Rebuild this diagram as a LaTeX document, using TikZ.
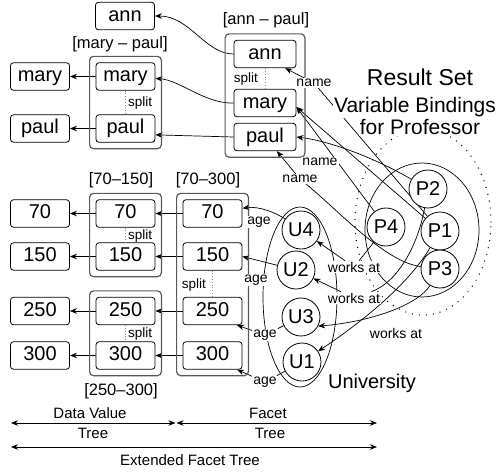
\documentclass[tikz,border=0pt]{standalone}
\usepackage{fontspec}
\setmainfont{Liberation Sans}
\usetikzlibrary{arrows.meta,fit,backgrounds}

\tikzset{
  fs/.style={font=\fontsize{#1}{#1}\selectfont},
  vbox/.style={draw, rounded corners=3pt, line width=0.8pt, fill=white,
    minimum width=59pt, minimum height=27.5pt, inner sep=0pt,
    text height=14.5pt, text depth=4pt, fs=20},
  grp/.style={draw=black!65, line width=1.2pt, rounded corners=4pt, inner sep=6pt},
  ttl/.style={fs=16.5, inner sep=0pt},
  circ/.style={circle, draw, line width=0.8pt, fill=white, minimum size=38pt,
    inner sep=0pt, fs=20},
  lbl/.style={fs=14, fill=white, inner sep=1pt},
  splitlbl/.style={fs=13.5, inner sep=1pt},
  spl/.style={draw=black!45, dotted, line width=0.8pt},
  conn/.style={-{Stealth[length=7pt,width=5.5pt]}, line width=0.7pt},
  dimarrow/.style={{Stealth[length=7pt,width=5.5pt]}-{Stealth[length=7pt,width=5.5pt]}, line width=0.7pt},
  heading/.style={fill=white, inner sep=1pt},
}

\begin{document}
\begin{tikzpicture}[x=1pt,y=-1pt]
\useasboundingbox (0,0) rectangle (504,472);

% ---- name values ----
\node[vbox] (annL)  at (125,16)    {ann};
\node[vbox] (maryL) at (40,76.5)   {mary};
\node[vbox] (paulL) at (40,128.5)  {paul};
\node[vbox] (maryM) at (125.5,76.5)  {mary};
\node[vbox] (paulM) at (125.5,128.5) {paul};
\node[vbox, minimum width=62pt] (annR)  at (265,54)  {ann};
\node[vbox, minimum width=62pt] (maryR) at (265,103) {mary};
\node[vbox, minimum width=62pt] (paulR) at (265,137) {paul};

\node[grp, fit=(maryM)(paulM)] (gMP) {};
\node[grp, fit=(annR)(maryR)(paulR), inner xsep=8.5pt, inner ysep=6pt] (gAP) {};
\node[ttl] (tMP) at (120,44) {[mary – paul]};
\node[ttl] (tAP) at (266,20) {[ann – paul]};

\draw[spl] (maryM.south) -- (paulM.north);
\node[splitlbl, anchor=west] (sMP) at (127,103) {split};
\draw[spl] (annR.south) -- (maryR.north);
\node[splitlbl, anchor=east] (sAP) at (259,79) {split};

% ---- age values ----
\node[vbox] (v70L)  at (40,213.5) {70};
\node[vbox] (v150L) at (40,256.5) {150};
\node[vbox] (v250L) at (40,311)   {250};
\node[vbox] (v300L) at (40,355.5) {300};
\node[vbox] (v70M)  at (125.5,213.5) {70};
\node[vbox] (v150M) at (125.5,256.5) {150};
\node[vbox] (v250M) at (125.5,311)   {250};
\node[vbox] (v300M) at (125.5,355.5) {300};
\node[vbox] (v70R)  at (212.5,213.5) {70};
\node[vbox] (v150R) at (212.5,256.5) {150};
\node[vbox] (v250R) at (212.5,311)   {250};
\node[vbox] (v300R) at (212.5,355.5) {300};

\node[grp, fit=(v70M)(v150M)] (g1) {};
\node[grp, fit=(v250M)(v300M)] (g2) {};
\node[grp, fit=(v70R)(v300R)] (g3) {};
\node[ttl] (t1) at (121,180) {[70–150]};
\node[ttl] (t2) at (121,391) {[250–300]};
\node[ttl] (t3) at (208,180) {[70–300]};

\draw[spl] (v70M.south) -- (v150M.north);
\node[splitlbl, anchor=west] (s1) at (127,236) {split};
\draw[spl] (v250M.south) -- (v300M.north);
\node[splitlbl, anchor=west] (s2) at (127,334) {split};
\draw[spl] (v150R.south) -- (v250R.north);
\node[splitlbl, anchor=east] (s3) at (207,285) {split};

% ---- universities and professors ----
\node[circ] (U4) at (301,230) {U4};
\node[circ] (U2) at (296,270) {U2};
\node[circ] (U3) at (301,317) {U3};
\node[circ] (U1) at (302,362) {U1};
\node[circ] (P2) at (428,189) {P2};
\node[circ] (P4) at (386,227) {P4};
\node[circ] (P1) at (440,231) {P1};
\node[circ] (P3) at (440,269) {P3};

% ---- edge labels ----
\node[lbl] (nmA) at (314,83)  {name};
\node[lbl] (nmB) at (320,162) {name};
\node[lbl] (nmC) at (300,179) {name};
\node[lbl] (wk1) at (354,267) {works at};
\node[lbl] (wk2) at (354,298) {works at};
\node[lbl] (wk3) at (396,333) {works at};
\node[lbl] (ag1) at (259,222) {age};
\node[lbl] (ag2) at (256,280) {age};
\node[lbl] (ag3) at (265,335) {age};
\node[lbl] (ag4) at (265,382) {age};

% ---- headings ----
\node[heading, fs=23] (hRS) at (420,77)  {Result Set};
\node[heading, fs=21] (hVB) at (415,107) {Variable Bindings};
\node[heading, fs=21] (hFP) at (420,127) {for Professor};
\node[fs=20, inner sep=0pt] (hUn) at (372,383) {University};

% ---- tree extents ----
\coordinate (d0) at (11,423);
\coordinate (d1) at (175.5,423);
\coordinate (d2) at (176.5,423);
\coordinate (d3) at (377,423);
\coordinate (e0) at (11,447);
\coordinate (e1) at (377,447);
\draw[dimarrow] (d0) -- (d1);
\draw[dimarrow] (d2) -- (d3);
\draw[dimarrow] (e0) -- (e1);
\node[fs=15, inner sep=0pt] (xDV) at (90,413)  {Data Value};
\node[fs=15, inner sep=0pt] (xT1) at (93,433)  {Tree};
\node[fs=15, inner sep=0pt] (xFa) at (268,413) {Facet};
\node[fs=15, inner sep=0pt] (xT2) at (270,433) {Tree};
\node[fs=15, inner sep=0pt] (xEF) at (190,460) {Extended Facet Tree};

\begin{pgfonlayer}{background}
  % enclosing sets
  \draw[line width=0.7pt] (300,297) ellipse [x radius=37pt, y radius=90pt];
  \draw[line width=0.7pt] (422,230) ellipse [x radius=57pt, y radius=67pt];
  \draw[line width=1.4pt, line cap=round, dash pattern=on 0pt off 7pt]
    (423,222) ellipse [x radius=68pt, y radius=93pt];

  % tree arrows between value boxes
  \draw[conn] (maryM) -- (maryL);
  \draw[conn] (paulM) -- (paulL);
  \draw[conn] (annR.west) .. controls (205,54) and (190,16) .. (annL);
  \draw[conn] (maryR.west) .. controls (205,104) and (180,80) .. (maryM);
  \draw[conn] (paulR.west) -- (paulM.-12);
  \draw[conn] (v70R) -- (v70M);
  \draw[conn] (v150R) -- (v150M);
  \draw[conn] (v250R) -- (v250M);
  \draw[conn] (v300R) -- (v300M);
  \draw[conn] (v70M) -- (v70L);
  \draw[conn] (v150M) -- (v150L);
  \draw[conn] (v250M) -- (v250L);
  \draw[conn] (v300M) -- (v300L);

  % name edges
  \coordinate (mtip) at ([yshift=-4pt]maryR.east);
  \draw[conn] (P1) -- (mtip);
  \draw[conn] (P4) -- (mtip);
  \draw[conn] (P1) -- (nmA) -- (annR.-35);
  \draw[conn] (P2) .. controls (375,158) and (330,141) .. (paulR.east);
  \draw[conn] (P3) .. controls (385,262) and (340,212) .. (nmC) -- (paulR.-50);

  % works-at edges
  \draw[conn] (P4) -- (wk1) -- (U4);
  \draw[conn] (P2) .. controls (418,245) and (398,282) .. (wk2) -- (U2);
  \draw[conn] (P3) .. controls (418,305) and (370,322) .. (U3.-28);
  \draw[conn] (P1) .. controls (405,290) and (350,330) .. (U1);

  % age edges
  \draw[conn] (U4) .. controls (275,212) and (258,206) .. (v70R.10);
  \draw[conn] (U2) -- (v150R.east);
  \draw[conn] (U3) -- (ag3) -- (v250R.-30);
  \draw[conn] (U1) -- (ag4) -- (v300R.-30);
\end{pgfonlayer}
\end{tikzpicture}
\end{document}
